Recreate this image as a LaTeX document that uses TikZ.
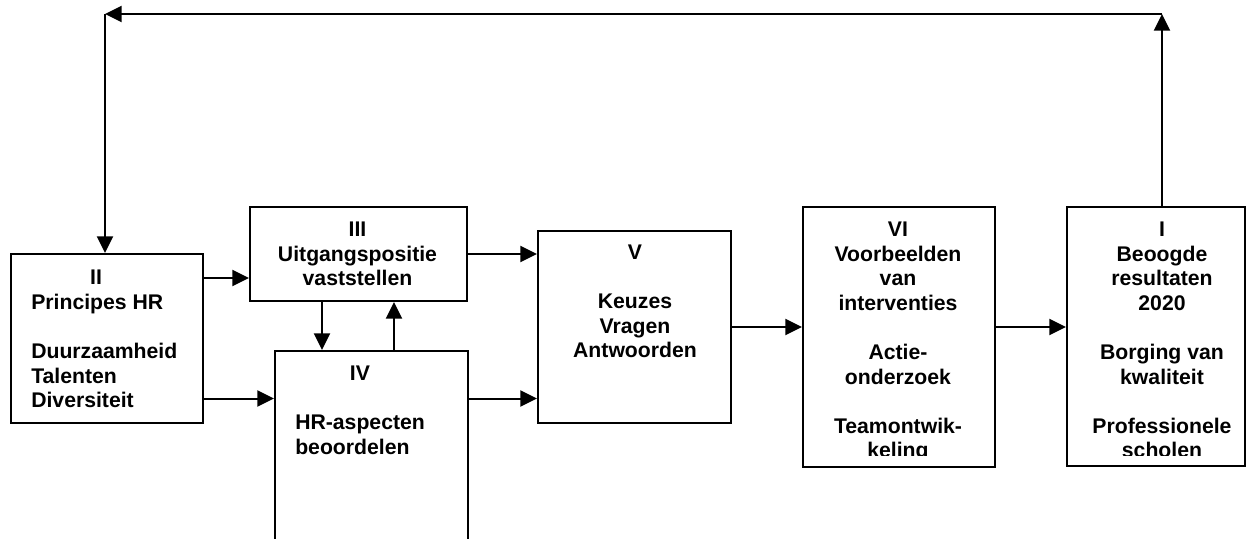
\documentclass[tikz,border=0pt]{standalone}
\usepackage{fontspec}
\setmainfont{Liberation Sans}
\usetikzlibrary{arrows.meta}
\tikzset{
  x=0.75pt, y=-0.75pt,
  box/.style={draw, line width=1.5pt, inner sep=0pt, anchor=north west},
  txt/.style={inner sep=0pt, font=\fontsize{15.9}{18.4}\selectfont\bfseries},
  arr/.style={line width=1.5pt, -{Triangle[length=12.5pt,width=12pt]}}
}
\begin{document}
\begin{tikzpicture}
\useasboundingbox (0,0) rectangle (1246,539);
\clip (0,0) rectangle (1246,539);
% boxes
\node[box, minimum width=144pt, minimum height=126.75pt] (II) at (10,253) {};
\node[box, minimum width=162.75pt, minimum height=70.5pt] (III) at (249,206) {};
\node[box, minimum width=144.75pt, minimum height=157.5pt] (IV) at (274,350) {};
\node[box, minimum width=144.75pt, minimum height=144pt] (V) at (537,230) {};
\node[box, minimum width=144pt, minimum height=195pt] (VI) at (802,206) {};
\node[box, minimum width=133.5pt, minimum height=194.25pt] (I) at (1066,206) {};
% texts
\node[txt, anchor=north] (IIt) at (96,270) {II};
\node[txt, anchor=north west, align=left] (IIb) at (31,294) {Principes HR\\\mbox{}\\Duurzaamheid\\Talenten\\Diversiteit};
\node[txt, anchor=north, align=center] (IIIt) at (357.5,222) {III\\Uitgangspositie\\vaststellen};
\node[txt, anchor=north] (IVt) at (360,366) {IV};
\node[txt, anchor=north west, align=left] (IVb) at (295,415) {HR-aspecten\\beoordelen};
\node[txt, anchor=north, align=center] (Vt) at (635,245) {V\\\mbox{}\\Keuzes\\Vragen\\Antwoorden};
\begin{scope}
\clip (802,206) rectangle (1244,455);
\node[txt, anchor=north, align=center] (VIt) at (898,222) {VI\\Voorbeelden\\van\\interventies\\\mbox{}\\Actie-\\onderzoek\\\mbox{}\\Teamontwik-\\keling};
\node[txt, anchor=north, align=center] (It) at (1162,222) {I\\Beoogde\\resultaten\\2020\\\mbox{}\\Borging van\\kwaliteit\\\mbox{}\\Professionele\\scholen};
\end{scope}
% helper coordinates
\coordinate (yA) at (0,278);
\coordinate (yB) at (0,398.5);
\coordinate (xA) at (322,0);
\coordinate (xB) at (394,0);
\coordinate (tr) at (1162,14);
\coordinate (tl) at (105,14);
% connectors
\draw[arr] (II.east |- yA) -- (III.west |- yA);
\draw[arr] (II.east |- yB) -- (IV.west |- yB);
\draw[arr] (III.south -| xA) -- (IV.north -| xA);
\draw[arr] (IV.north -| xB) -- (III.south -| xB);
\draw[arr] (III.east) -- (V.west |- III.east);
\draw[arr] (IV.east |- yB) -- (V.west |- yB);
\draw[arr] (V.east) -- (VI.west |- V.east);
\draw[arr] (VI.east |- V.east) -- (I.west |- V.east);
\draw[arr] (I.north -| tr) -- (tr);
\draw[arr] (tr) -- (tl);
\draw[arr] (tl) -- (II.north -| tl);
\end{tikzpicture}
\end{document}
